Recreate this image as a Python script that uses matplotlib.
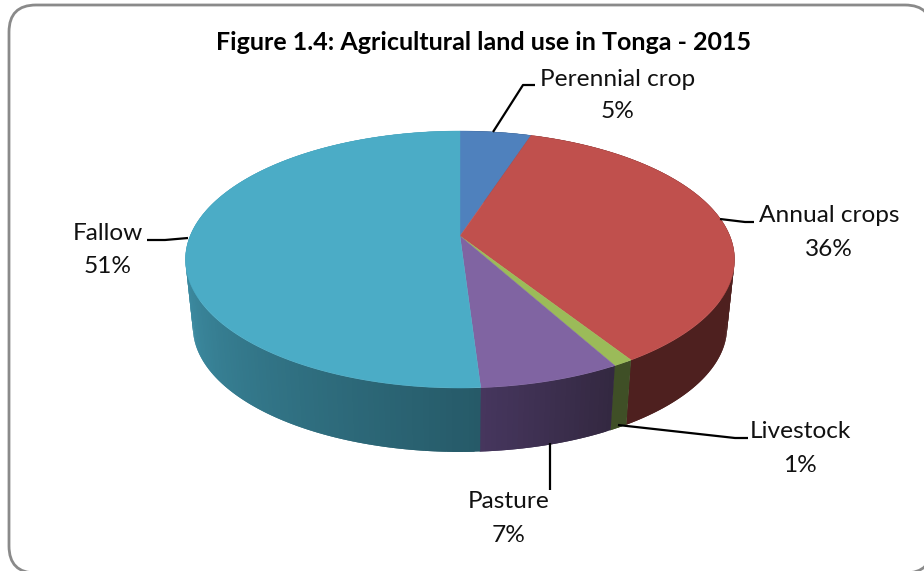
import numpy as np
import matplotlib
matplotlib.use("Agg")
import matplotlib.pyplot as plt
from matplotlib.patches import FancyBboxPatch, Polygon
from matplotlib.colors import to_rgb

# Data
title = "Figure 1.4: Agricultural land use in Tonga - 2015"
categories = ["Perennial crop", "Annual crops", "Livestock", "Pasture", "Fallow"]
values = [5, 36, 1, 7, 51]

# Styles
top_colors = ["#4f81bd", "#c0504d", "#9bbb59", "#8064a2", "#4bacc6"]
side_dark = ["#284060", "#4e201f", "#3f4f26", "#332840", "#265a68"]
side_light = ["#284060", "#4e201f", "#3f4f26", "#46365e", "#4298b0"]
label_pos = [(618, 79), (829, 216), (800, 432), (509, 502), (108, 233.5)]
leaders = [
    [(493, 132), (523, 85), (535, 85)],
    [(720, 219), (745, 222), (754, 222)],
    [(618, 425), (735, 438), (748, 438)],
    [(550, 443), (550, 490)],
    [(188, 238), (165, 240), (147, 240)],
]
FONT = "Lato"
APEX = (460.0, 236.0)
APEX_BOTTOM = (460.0, 304.0)
A, B, P = 269.9, 124.2, 0.183
BOTTOM_SCALE = 0.973


def project(t_deg, apex=APEX, scale=1.0):
    """Circle angle (clockwise from the back of the pie) to figure pixels."""
    t = np.radians(t_deg)
    w = 1 + P * np.cos(t)
    return (apex[0] + scale * A * np.sin(t) / w,
            apex[1] - scale * B * np.cos(t) / w)


fig = plt.figure(figsize=(9.24, 5.71), dpi=100)
ax = fig.add_axes([0, 0, 1, 1])
ax.set_xlim(0, 924)
ax.set_ylim(571, 0)
ax.axis("off")

ax.add_patch(FancyBboxPatch((9, 5), 923, 568,
                            boxstyle="round,pad=0,rounding_size=27",
                            fc="white", ec="#8a8a8a", lw=2.0, clip_on=True))

edges = np.concatenate([[0], np.cumsum(values)]) * 3.6

# Side wall, back to front; each strip runs slightly under the next one
strips = []
for i, (a0, a1) in enumerate(zip(edges[:-1], edges[1:])):
    ts = np.linspace(a0, a1, max(2, int(a1 - a0) + 2))
    for s0, s1 in zip(ts[:-1], ts[1:]):
        strips.append((s0, s1, i, a0, a1))
strips.sort(key=lambda s: np.cos(np.radians((s[0] + s[1]) / 2)), reverse=True)
for s0, s1, i, a0, a1 in strips:
    mid = (s0 + s1) / 2
    frac = np.clip((mid - a0) / max(275 - a0, 1e-6), 0, 1)
    if i == 3:
        frac = np.clip((mid - a0) / (values[3] * 3.6), 0, 1)
    col = (1 - frac) * np.array(to_rgb(side_dark[i])) + frac * np.array(to_rgb(side_light[i]))
    if mid < 180:
        s1 = min(s1 + 1.0, a1 + 0.1)
    else:
        s0 = max(s0 - 1.0, a0 - 0.1)
    seg = np.linspace(s0, s1, 5)
    upper = np.column_stack(project(seg))
    lower = np.column_stack(project(seg[::-1], APEX_BOTTOM, BOTTOM_SCALE))
    ax.add_patch(Polygon(np.vstack([upper, lower]), closed=True, fc=col, ec="none", lw=0, zorder=2))

# Top face
for i, (a0, a1) in enumerate(zip(edges[:-1], edges[1:])):
    arc = np.column_stack(project(np.linspace(a0, a1, max(8, int(a1 - a0) * 2))))
    ax.add_patch(Polygon(np.vstack([[APEX], arc]), closed=True,
                         fc=top_colors[i], ec=top_colors[i], lw=0.3, zorder=3))

# Leader lines and labels
for pts in leaders:
    xs, ys = zip(*pts)
    ax.plot(xs, ys, color="black", lw=1.6, zorder=4, solid_capstyle="butt")
for name, val, (x, y) in zip(categories, values, label_pos):
    ax.text(x, y, name, ha="center", va="center", fontsize=17.6, family=FONT, color="#111111", zorder=5)
    ax.text(x, y + 33, f"{val}%", ha="center", va="center", fontsize=17.6, family=FONT, color="#111111", zorder=5)

ax.text(484, 43, title, ha="center", va="center", fontsize=18, fontweight="bold",
        family=FONT, color="black", zorder=5)

fig.savefig("out.png", dpi=100)
